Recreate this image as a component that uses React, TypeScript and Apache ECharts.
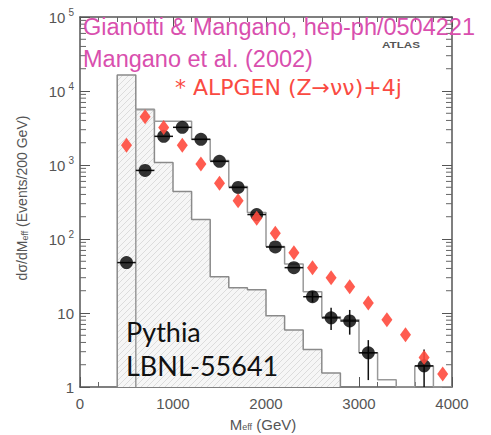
import React, { useEffect, useRef } from 'react';
import * as echarts from 'echarts';

// ---- data ----
const shadedEdges = [400, 600, 800, 1000, 1200, 1400, 1600, 1800, 2000, 2200, 2400, 2600, 2800];
const shadedValues = [16400, 5670, 1085, 439, 183, 31, 22, 20.6, 9.2, 5.9, 3.2, 1.55];

const outlineEdges = [600, 800, 1000, 1200, 1400, 1600, 1800, 2000, 2200, 2400, 2600, 2800, 3000, 3200, 3400, 3600, 3800, 4000];
const outlineValues = [5600, 3900, 3900, 2220, 1150, 514, 228, 79, 46, 19.4, 8.9, 8.1, 2.9, 1.25, 1, 1.9, 1];

const dotX = [500, 700, 900, 1100, 1300, 1500, 1700, 1900, 2100, 2300, 2500, 2700, 2900, 3100, 3700];
const dotY = [48, 845, 2440, 3230, 2220, 1120, 497, 214, 78, 41, 16.6, 8.6, 7.8, 2.9, 1.93];
const dotErrLo = [48, 845, 2440, 3230, 2220, 1120, 497, 214, 78, 41, 14, 5.9, 5.1, 1.24, 1];
const dotErrHi = [48, 845, 2440, 3230, 2220, 1120, 497, 214, 78, 41, 19.5, 11.8, 11, 4.3, 3.2];

const diamondX = [500, 700, 900, 1100, 1300, 1500, 1700, 1900, 2100, 2300, 2500, 2700, 2900, 3100, 3300, 3500, 3700, 3900];
const diamondY = [1850, 4500, 3200, 1850, 1030, 565, 330, 190, 120, 65, 41, 30, 22.6, 13.7, 8.1, 5.1, 2.5, 1.5];

const decades = [1, 10, 100, 1000, 10000];
const minorMultipliers = [2, 3, 4, 5, 6, 7, 8, 9];

const titleLine1 = 'Gianotti & Mangano, hep-ph/0504221';
const titleLine2 = 'Mangano et al. (2002)';
const alpgenLabel = '* ALPGEN (Z\u2192\u03bd\u03bd)+4j';
const pythiaLine1 = 'Pythia';
const pythiaLine2 = 'LBNL-55641';
const experimentLabel = 'ATLAS';

const SANS = '"Liberation Sans", Arial, Helvetica, sans-serif';
const HUMAN = 'Lato, "Open Sans", sans-serif';
const WIDE = '"DejaVu Sans", "Open Sans", sans-serif';

function stepData(edges: number[], values: number[]) {
  const pts: number[][] = [[edges[0], 1]];
  values.forEach((v, i) => pts.push([edges[i], v]));
  pts.push([edges[edges.length - 1], values[values.length - 1]]);
  pts.push([edges[edges.length - 1], 1]);
  return pts;
}

function makeHatch() {
  const c = document.createElement('canvas');
  c.width = 6;
  c.height = 6;
  const ctx = c.getContext('2d')!;
  ctx.fillStyle = '#f6f6f6';
  ctx.fillRect(0, 0, 6, 6);
  ctx.strokeStyle = '#dcdcdc';
  ctx.lineWidth = 1;
  ctx.beginPath();
  ctx.moveTo(-1, 7); ctx.lineTo(7, -1);
  ctx.moveTo(-1, 1); ctx.lineTo(1, -1);
  ctx.moveTo(5, 7); ctx.lineTo(7, 5);
  ctx.stroke();
  return c;
}

export default function App() {
  const ref = useRef<HTMLDivElement>(null);

  useEffect(() => {
    document.body.style.margin = '0';
    if (!ref.current) return;
    const chart = echarts.init(ref.current, undefined, { renderer: 'svg' });

    const minorData: number[][] = [];
    decades.forEach((d) => minorMultipliers.forEach((m) => minorData.push([0, d * m])));

    const axisLineStyle = { color: '#555', width: 1.5 };
    const xCommon = {
      type: 'value',
      min: 0,
      max: 4000,
      interval: 1000,
      axisLine: { show: true, onZero: false, lineStyle: axisLineStyle },
      axisTick: { show: true, inside: true, length: 10, lineStyle: { color: '#555', width: 1 } },
      minorTick: { show: true, splitNumber: 5, length: 5, lineStyle: { color: '#666', width: 1 } },
      splitLine: { show: false },
      minorSplitLine: { show: false },
    };
    const yCommon = {
      type: 'log',
      logBase: 10,
      min: 1,
      max: 100000,
      axisLine: { show: true, onZero: false, lineStyle: axisLineStyle },
      axisTick: { show: true, inside: true, length: 10, lineStyle: { color: '#555', width: 1 } },
      splitLine: { show: false },
    };

    const option: any = {
      animation: false,
      backgroundColor: '#ffffff',
      grid: { left: 80, right: 39, top: 17, bottom: 48, containLabel: false },
      xAxis: [
        {
          ...xCommon,
          position: 'bottom',
          axisLabel: {
            color: '#555', fontSize: 15, fontFamily: SANS, margin: 9,
            showMinLabel: true, showMaxLabel: true,
            formatter: (v: number) => String(v),
          },
        },
        { ...xCommon, position: 'top', axisLabel: { show: false } },
      ],
      yAxis: [
        {
          ...yCommon,
          position: 'left',
          axisLabel: {
            color: '#555',
            fontSize: 15,
            fontFamily: SANS,
            margin: 6,
            lineHeight: 20,
            formatter: (v: number) => {
              const e = Math.round(Math.log10(v));
              if (e === 0) return '1';
              if (e === 1) return '10';
              return '10{s|' + e + '}';
            },
            rich: {
              s: { fontSize: 10, fontFamily: SANS, color: '#555', verticalAlign: 'top', lineHeight: 10, padding: [0, 0, 0, 3] },
            },
          },
        },
        { ...yCommon, position: 'right', axisLabel: { show: false } },
      ],
      series: [
        {
          type: 'line',
          data: stepData(shadedEdges, shadedValues),
          step: 'end',
          symbol: 'none',
          silent: true,
          z: 1,
          lineStyle: { color: '#8a8a8a', width: 1.5 },
          areaStyle: {
            color: { image: makeHatch(), repeat: 'repeat', imageWidth: 6, imageHeight: 6 },
            opacity: 1,
            origin: 'start',
          },
        },
        {
          type: 'line',
          data: stepData(outlineEdges, outlineValues),
          step: 'end',
          symbol: 'none',
          silent: true,
          z: 2,
          lineStyle: { color: '#999', width: 1.5 },
        },
        {
          type: 'custom',
          z: 3,
          silent: true,
          data: dotX.map((x, i) => [x, dotY[i], dotErrLo[i], dotErrHi[i]]),
          renderItem: (params: any, api: any) => {
            const x = api.value(0);
            const y = api.value(1);
            const l = api.coord([x - 100, y]);
            const r = api.coord([x + 100, y]);
            const lo = api.coord([x, api.value(2)]);
            const hi = api.coord([x, api.value(3)]);
            const style = { stroke: '#111', lineWidth: 1.5 };
            return {
              type: 'group',
              children: [
                { type: 'line', shape: { x1: l[0], y1: l[1], x2: r[0], y2: r[1] }, style },
                { type: 'line', shape: { x1: lo[0], y1: lo[1], x2: hi[0], y2: hi[1] }, style },
              ],
            };
          },
        },
        {
          type: 'scatter',
          z: 4,
          silent: true,
          symbol: 'circle',
          symbolSize: 13,
          itemStyle: { color: '#000' },
          data: dotX.map((x, i) => [x, dotY[i]]),
        },
        {
          type: 'scatter',
          z: 5,
          silent: true,
          symbol: 'diamond',
          symbolSize: [11, 15],
          itemStyle: { color: '#ff4a3d', opacity: 0.9 },
          data: diamondX.map((x, i) => [x, diamondY[i]]),
        },
        {
          type: 'custom',
          z: 6,
          silent: true,
          data: minorData,
          renderItem: (params: any, api: any) => {
            const v = api.value(1);
            const a = api.coord([0, v]);
            const b = api.coord([4000, v]);
            const style = { stroke: '#666', lineWidth: 1 };
            return {
              type: 'group',
              children: [
                { type: 'line', shape: { x1: a[0], y1: a[1], x2: a[0] + 6, y2: a[1] }, style },
                { type: 'line', shape: { x1: b[0] - 6, y1: b[1], x2: b[0], y2: b[1] }, style },
              ],
            };
          },
        },
      ],
      graphic: [
        {
          type: 'text', left: 83, top: 15, z: 100,
          style: { text: titleLine1, fill: '#d94fae', font: '23.5px ' + SANS },
        },
        {
          type: 'text', left: 83, top: 47, z: 100,
          style: { text: titleLine2, fill: '#d94fae', font: '23.5px ' + SANS },
        },
        {
          type: 'text', left: 175, top: 76, z: 100,
          style: { text: alpgenLabel, fill: '#fa4a42', font: '22px ' + WIDE },
        },
        {
          type: 'text', x: 382, y: 40, scaleX: 1.3, z: 100,
          style: { text: experimentLabel, fill: '#555', font: 'bold 9px ' + SANS, verticalAlign: 'top' },
        },
        {
          type: 'text', left: 126, top: 318, z: 100,
          style: { text: pythiaLine1, fill: '#111', font: '27px ' + HUMAN },
        },
        {
          type: 'text', left: 126, top: 352, z: 100,
          style: { text: pythiaLine2, fill: '#111', font: '27px ' + HUMAN },
        },
        {
          type: 'text', x: 263, y: 424, z: 100,
          style: {
            text: 'M{sub|eff} (GeV)', align: 'center', verticalAlign: 'middle',
            fill: '#555', font: '15px ' + SANS,
            rich: { sub: { fontSize: 9, fontFamily: SANS, fill: '#555', verticalAlign: 'bottom', lineHeight: 12 } },
          },
        },
        {
          type: 'text', x: 22, y: 198, rotation: Math.PI / 2, z: 100,
          style: {
            text: 'd\u03c3/dM{sub|eff} (Events/200 GeV)', align: 'center', verticalAlign: 'middle',
            fill: '#555', font: '14px ' + SANS,
            rich: { sub: { fontSize: 9, fontFamily: SANS, fill: '#555', verticalAlign: 'bottom', lineHeight: 12 } },
          },
        },
      ],
    };

    chart.setOption(option);
    return () => chart.dispose();
  }, []);

  return <div ref={ref} style={{ width: 491, height: 435 }} />;
}
